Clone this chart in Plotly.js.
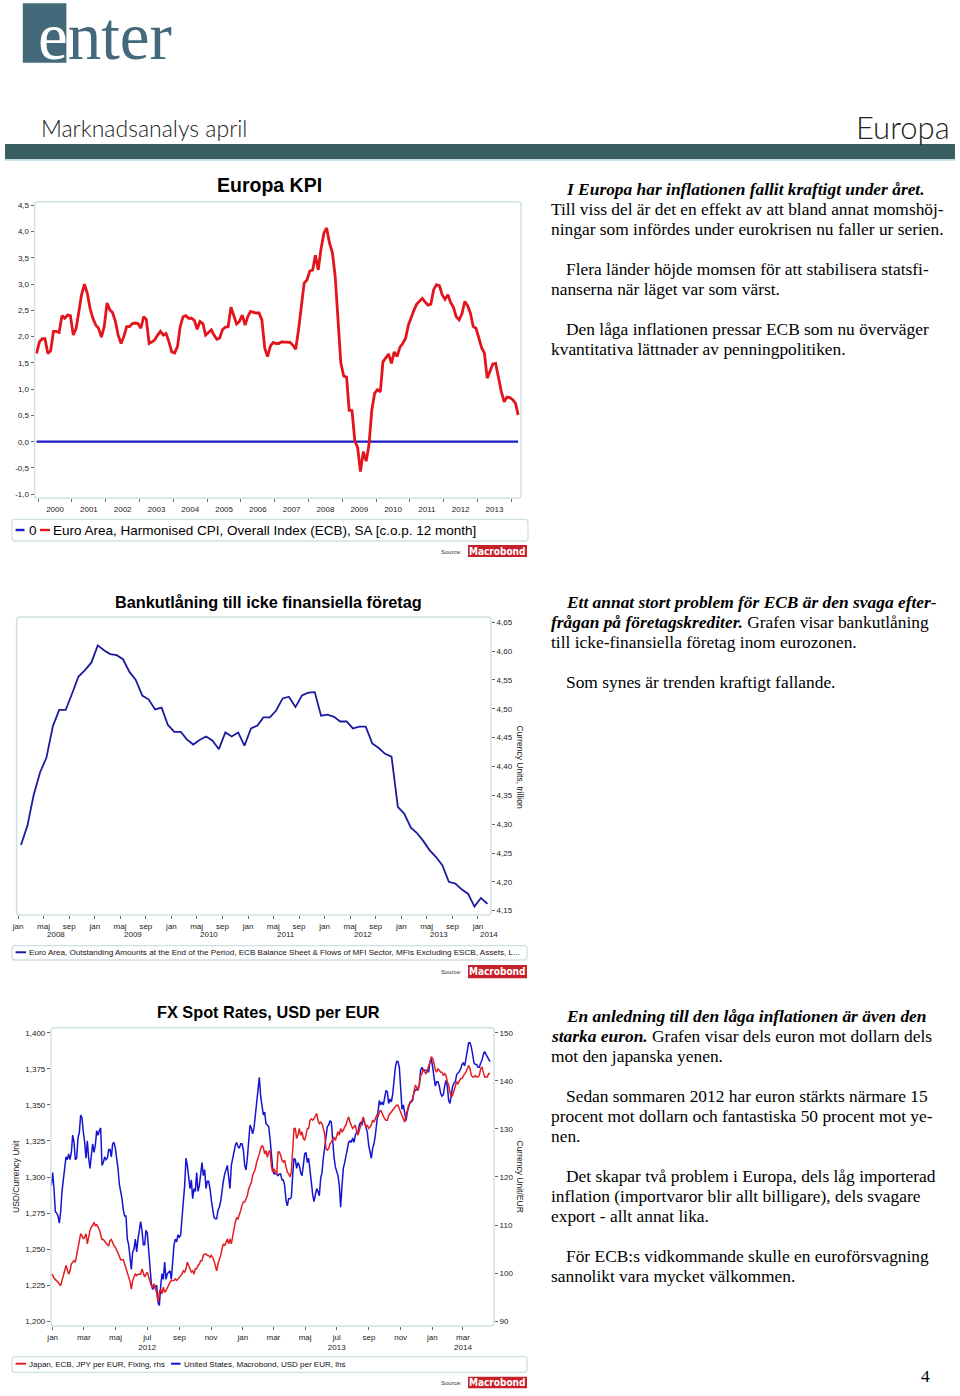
<!DOCTYPE html>
<html><head><meta charset="utf-8">
<script src="https://cdn.plot.ly/plotly-3.0.1.min.js"></script>
<style>html,body{margin:0;padding:0;background:#fff;} #chart{width:960px;height:1396px;}</style>
</head><body><div id="chart"></div>
<script>
// ================= DATA =================
// Chart 1: Euro Area HICP, % y/y, monthly from Dec 1999
const kpiFirstMonth = [1999, 12];
const kpiValues = [
1.68,1.90,1.96,1.96,1.68,1.73,2.10,2.10,2.08,2.40,
2.35,2.41,2.40,2.03,2.16,2.48,2.80,3.00,2.83,2.54,
2.35,2.22,2.16,1.99,2.19,2.64,2.51,2.46,2.29,2.03,
1.87,2.00,2.19,2.19,2.25,2.26,2.25,2.16,2.38,2.33,
1.87,1.90,1.94,2.03,2.10,2.03,2.06,1.90,1.71,1.69,
1.81,2.19,2.38,2.40,2.35,2.35,2.31,2.14,2.29,2.25,
2.03,2.08,2.13,2.03,1.95,1.97,2.13,2.18,2.19,2.56,
2.38,2.24,2.29,2.41,2.22,2.38,2.48,2.46,2.45,2.45,
2.32,1.78,1.62,1.82,1.89,1.87,1.87,1.90,1.90,1.90,
1.89,1.84,1.76,2.13,2.57,3.02,3.08,3.25,3.27,3.55,
3.27,3.67,3.97,4.07,3.78,3.60,3.15,2.20,1.50,1.25,
1.23,0.60,0.59,0.02,-0.11,-0.57,-0.19,-0.37,-0.06,0.60,
0.92,0.99,0.95,1.52,1.59,1.67,1.49,1.71,1.62,1.80,
1.87,1.97,2.22,2.38,2.51,2.62,2.68,2.73,2.66,2.60,
2.62,2.90,2.99,2.97,2.80,2.71,2.80,2.65,2.56,2.38,
2.32,2.43,2.67,2.59,2.45,2.19,2.16,1.95,1.78,1.69,
1.21,1.34,1.48,1.49,1.21,0.95,0.76,0.85,0.84,0.80,
0.73,0.51];
const zeroValues = [0, 0];
const kpiTickVals = [4.5,4,3.5,3,2.5,2,1.5,1,0.5,0,-0.5,-1];
const kpiTickText = ['4,5','4,0','3,5','3,0','2,5','2,0','1,5','1,0','0,5','0,0','-0,5','-1,0'];

// Chart 2: bank lending to non-financial corporations, EUR trillion, monthly from Jan 2008
const loanFirstMonth = [2008, 1];
const loanValues = [
4.264,4.298,4.350,4.390,4.415,4.470,4.498,4.498,4.527,4.556,
4.567,4.580,4.610,4.601,4.595,4.593,4.586,4.564,4.550,4.523,
4.516,4.499,4.502,4.472,4.460,4.460,4.447,4.438,4.446,4.452,
4.445,4.430,4.459,4.452,4.459,4.436,4.466,4.471,4.485,4.485,
4.497,4.518,4.521,4.503,4.523,4.528,4.529,4.488,4.490,4.486,
4.478,4.478,4.466,4.469,4.469,4.440,4.432,4.422,4.417,4.330,
4.318,4.294,4.285,4.271,4.255,4.243,4.229,4.200,4.197,4.187,
4.179,4.157,4.172,4.162];
const loanTickVals = [4.65,4.60,4.55,4.50,4.45,4.40,4.35,4.30,4.25,4.20,4.15];
const loanTickText = ['4,65','4,60','4,55','4,50','4,45','4,40','4,35','4,30','4,25','4,20','4,15'];
const loanMonthLabels = ['jan','maj','sep'];
const loanYears = ['2008','2009','2010','2011','2012','2013','2014'];

// Chart 3: FX spot rates, sampled about every 2.57 days from end Dec 2011
const fxFirstDay = '2011-12-29T09:00:00Z';
const fxStepDays = 2.5675;
const usdValues = [
1.294,1.303,1.292,1.276,1.275,1.273,1.268,1.276,1.290,1.298,
1.306,1.314,1.312,1.316,1.312,1.317,1.329,1.324,1.312,1.313,
1.327,1.331,1.343,1.341,1.331,1.324,1.313,1.325,1.313,1.306,
1.315,1.323,1.317,1.322,1.332,1.329,1.332,1.334,1.308,1.310,
1.314,1.312,1.313,1.319,1.319,1.314,1.323,1.324,1.320,1.314,
1.306,1.295,1.291,1.285,1.277,1.273,1.273,1.257,1.253,1.246,
1.236,1.248,1.250,1.257,1.248,1.257,1.264,1.269,1.263,1.253,
1.253,1.263,1.261,1.248,1.238,1.226,1.222,1.224,1.224,1.225,
1.213,1.211,1.224,1.233,1.229,1.241,1.229,1.233,1.234,1.235,
1.229,1.241,1.253,1.257,1.255,1.260,1.258,1.260,1.269,1.283,
1.294,1.313,1.308,1.299,1.292,1.298,1.285,1.292,1.290,1.303,
1.290,1.294,1.301,1.310,1.301,1.305,1.292,1.297,1.297,1.292,
1.284,1.276,1.272,1.271,1.271,1.277,1.279,1.283,1.291,1.297,
1.302,1.306,1.308,1.300,1.292,1.308,1.313,1.317,1.322,1.324,
1.321,1.320,1.323,1.323,1.319,1.308,1.305,1.313,1.327,1.336,
1.334,1.330,1.334,1.342,1.350,1.359,1.369,1.356,1.348,1.343,
1.345,1.337,1.336,1.335,1.327,1.315,1.306,
1.302,1.303,1.302,1.301,1.302,1.302,1.298,1.298,1.294,1.284,
1.280,1.285,1.285,1.286,1.301,1.313,1.312,1.306,1.310,1.308,
1.303,1.301,1.308,1.316,1.317,1.310,1.313,1.303,1.294,1.288,
1.283,1.287,1.292,1.290,1.287,1.299,1.303,1.313,1.322,1.331,
1.335,1.336,1.339,1.338,1.324,1.314,1.307,1.303,1.301,1.294,
1.279,1.294,1.306,1.310,1.315,1.320,1.324,1.325,1.324,1.327,
1.324,1.329,1.331,1.331,1.336,1.338,1.336,1.341,1.338,1.335,
1.331,1.322,1.317,1.313,1.320,1.323,1.329,1.337,1.343,1.353,
1.350,1.352,1.350,1.356,1.360,1.359,1.351,1.354,1.352,1.357,
1.369,1.376,1.380,1.380,1.376,1.359,1.347,1.350,1.343,1.339,
1.345,1.349,1.352,1.352,1.353,1.359,1.360,1.361,1.360,1.364,
1.374,1.376,1.374,1.374,1.374,1.373,1.373,1.380,1.382,1.376,
1.367,1.363,1.366,1.366,1.363,1.358,1.356,1.357,1.363,1.367,
1.363,1.353,1.351,1.358,1.363,1.365,1.366,1.371,1.372,1.373,
1.375,1.378,1.379,1.377,1.382,1.389,1.393,1.393,1.390,1.385,
1.379,1.378,1.378,1.376,1.376,1.379,1.381,1.385,1.387,1.385,
1.383,1.382,1.380];
const jpyValues = [
99.8,99.6,99.0,98.6,98.4,98.1,97.6,97.4,98.5,99.8,
100.5,101.6,100.5,99.8,100.5,101.9,102.3,102.6,102.3,103.7,
105.4,107.1,108.2,107.8,107.1,107.5,108.2,106.1,107.8,108.9,
109.6,109.9,110.6,109.9,110.1,109.6,109.1,108.0,107.0,107.0,
106.6,106.1,105.9,105.7,106.8,107.0,106.3,105.7,105.4,104.9,
104.2,103.5,102.8,102.8,102.8,101.9,100.9,100.2,99.4,98.3,
96.7,98.5,99.2,99.8,99.5,99.8,99.8,99.8,100.9,100.2,
99.2,99.8,100.2,99.2,98.1,97.4,97.1,97.8,96.7,96.0,
94.0,96.0,96.7,95.7,97.1,96.0,96.4,97.1,97.8,98.1,
98.5,98.5,98.5,98.8,98.5,98.8,99.2,99.5,99.8,100.5,
100.2,100.9,102.3,101.6,100.9,100.2,100.5,99.8,100.9,100.9,
101.6,101.9,102.6,102.6,103.7,104.0,104.0,103.7,103.7,103.3,
103.7,103.3,102.6,101.6,100.5,101.9,102.6,103.7,105.0,106.1,
105.7,106.4,107.1,106.1,107.1,106.1,108.2,109.2,110.6,111.6,
111.3,112.0,113.0,114.1,114.8,114.8,115.5,116.1,117.5,118.2,
118.9,120.3,121.0,121.7,123.1,123.8,124.8,125.9,126.5,126.2,
124.8,125.5,124.1,125.2,125.5,122.4,121.0,
121.7,121.0,120.4,125.2,125.2,124.5,123.5,123.1,123.5,122.1,
121.0,120.7,120.0,121.0,126.6,130.1,130.1,128.0,128.7,130.1,
128.7,129.4,128.0,127.6,128.7,130.1,130.1,131.8,132.1,131.8,
132.1,132.8,133.2,131.8,131.1,131.4,131.1,130.1,129.0,125.9,
125.6,125.9,126.9,127.3,128.0,128.3,127.6,128.7,129.4,128.7,
130.1,129.4,129.7,130.4,130.8,131.8,132.5,131.4,130.8,130.1,
130.4,130.8,129.4,128.7,129.7,130.8,131.8,132.5,131.1,130.4,
130.8,130.1,130.4,130.8,131.8,131.4,132.1,132.8,132.5,133.5,
133.9,133.2,132.5,132.1,131.8,131.8,132.8,133.2,133.5,133.9,
134.2,134.6,134.9,134.9,134.2,133.5,133.2,132.1,131.4,132.8,
134.2,134.9,135.3,135.9,136.3,137.7,139.1,138.7,138.0,139.4,
141.1,141.5,142.5,141.8,141.5,142.2,142.9,143.9,145.0,144.6,
143.6,142.2,141.8,142.5,142.2,141.8,141.8,141.1,141.5,141.1,
139.8,139.1,137.7,136.6,137.0,138.0,139.1,139.8,139.4,140.1,
140.5,140.5,141.1,141.5,141.8,142.5,143.2,142.5,141.1,140.8,
140.8,141.1,140.8,140.8,141.1,142.5,142.9,141.8,140.8,140.8,
140.8,141.5,141.5];
const usdTickVals = [1.4,1.375,1.35,1.325,1.3,1.275,1.25,1.225,1.2];
const usdTickText = ['1,400','1,375','1,350','1,325','1,300','1,275','1,250','1,225','1,200'];
const jpyTickVals = [150,140,130,120,110,100,90];
const fxMonthLabels = ['jan','mar','maj','jul','sep','nov'];

// ================= HELPERS =================
const W = 960, H = 1396;
const X = p => p / W;
const Y = p => 1 - p / H;
function monthDates(first, n) {
  const out = [];
  for (let i = 0; i < n; i++) {
    const d = new Date(Date.UTC(first[0], first[1] - 1 + i, 15));
    out.push(d.toISOString().slice(0, 10));
  }
  return out;
}
function stepDates(first, stepDays, n) {
  const t0 = Date.parse(first), out = [];
  for (let i = 0; i < n; i++) out.push(new Date(t0 + i * stepDays * 864e5).toISOString().slice(0, 19).replace('T', ' '));
  return out;
}
const kpiDates = monthDates(kpiFirstMonth, kpiValues.length);
const loanDates = monthDates(loanFirstMonth, loanValues.length);
const fxDates = stepDates(fxFirstDay, fxStepDays, usdValues.length);

const loanTickDates = [], loanTickLab = [];
for (let y = 2008; y <= 2014; y++) {
  [1, 5, 9].forEach((m, i) => {
    if (y === 2014 && m > 1) return;
    loanTickDates.push(`${y}-${String(m).padStart(2, '0')}-01`);
    loanTickLab.push(loanMonthLabels[i]);
  });
}
const loanYearPos = ['2008-07-01','2009-07-01','2010-07-01','2011-07-01','2012-07-01','2013-07-01','2014-02-24'];

const fxTickDates = [], fxTickLab = [];
for (let y = 2012; y <= 2014; y++) {
  for (let i = 0; i < 6; i++) {
    const m = 1 + 2 * i;
    if (y === 2014 && m > 3) break;
    let lab = fxMonthLabels[i];
    if ((y < 2014 && m === 7) || (y === 2014 && m === 3)) lab += '<br>' + y;
    fxTickDates.push(`${y}-${String(m).padStart(2, '0')}-01`);
    fxTickLab.push(lab);
  }
}

// ================= TRACES =================
const traces = [
  {x: [kpiDates[0], kpiDates[kpiDates.length - 1]], y: zeroValues, xaxis: 'x', yaxis: 'y', mode: 'lines', line: {color: '#1c1cc4', width: 2.2}},
  {x: kpiDates, y: kpiValues, xaxis: 'x', yaxis: 'y', mode: 'lines', line: {color: '#e3141b', width: 2.8}},
  {x: loanDates, y: loanValues, xaxis: 'x2', yaxis: 'y2', mode: 'lines', line: {color: '#1b1b9e', width: 1.8}},
  {x: fxDates, y: jpyValues, xaxis: 'x3', yaxis: 'y4', mode: 'lines', line: {color: '#e31d24', width: 1.5}},
  {x: fxDates, y: usdValues, xaxis: 'x3', yaxis: 'y3', mode: 'lines', line: {color: '#1414d2', width: 1.5}}
];

// ================= LAYOUT =================
const tickFont = {family: 'Liberation Sans, Arial, sans-serif', size: 8, color: '#222'};
const baseAx = {showgrid: false, zeroline: false, showline: false, ticks: 'outside', ticklen: 3, tickwidth: 1, tickcolor: '#666', tickfont: tickFont, fixedrange: true};

const shapes = [];
const ann = [];
const FRAME = '#cfe0e5';
function rrect(x0, y0, x1, y1, r, color, width) {
  const p = `M ${X(x0 + r)},${Y(y0)} L ${X(x1 - r)},${Y(y0)} Q ${X(x1)},${Y(y0)} ${X(x1)},${Y(y0 + r)} ` +
    `L ${X(x1)},${Y(y1 - r)} Q ${X(x1)},${Y(y1)} ${X(x1 - r)},${Y(y1)} L ${X(x0 + r)},${Y(y1)} ` +
    `Q ${X(x0)},${Y(y1)} ${X(x0)},${Y(y1 - r)} L ${X(x0)},${Y(y0 + r)} Q ${X(x0)},${Y(y0)} ${X(x0 + r)},${Y(y0)} Z`;
  shapes.push({type: 'path', xref: 'paper', yref: 'paper', path: p, line: {color: color, width: width}, fillcolor: 'rgba(0,0,0,0)'});
}
function rect(x0, y0, x1, y1, fill) {
  shapes.push({type: 'rect', xref: 'paper', yref: 'paper', x0: X(x0), x1: X(x1), y0: Y(y1), y1: Y(y0), fillcolor: fill, line: {width: 0}});
}
function hline(x0, x1, y, color, width) {
  shapes.push({type: 'line', xref: 'paper', yref: 'paper', x0: X(x0), x1: X(x1), y0: Y(y), y1: Y(y), line: {color: color, width: width}});
}
const SERIF = 17.4;
function txt(x, y, text, opts) {
  ann.push(Object.assign({xref: 'paper', yref: 'paper', x: X(x), y: Y(y), text: text, showarrow: false,
    xanchor: 'left', yanchor: 'middle', borderpad: 0,
    font: {family: 'Liberation Serif, Times New Roman, serif', size: SERIF, color: '#000'}}, opts || {}));
}
function logo(y0, y1) {
  rect(468, y0, 527, y1, '#c6202b');
  txt(497.5, (y0 + y1) / 2, '<b>Macrobond</b>', {xanchor: 'center', font: {family: 'DejaVu Sans Condensed, Liberation Sans Narrow, Liberation Sans', size: 10, color: '#fff'}});
  txt(463, (y0 + y1) / 2 + 0.5, 'Source:', {xanchor: 'right', font: {family: 'Liberation Sans, Arial', size: 6, color: '#333'}});
}
const sansFont = (s, c) => ({family: 'Liberation Sans, Arial, sans-serif', size: s, color: c || '#000'});

// ---- header ----
rect(22.8, 3.3, 66.4, 62.7, '#44697a');
txt(37, 36, "<span style='color:#ffffff'>e</span>nter", {font: {family: 'Liberation Serif, serif', size: 67, color: '#44697a'}});
txt(40, 128, 'Marknadsanalys april', {font: {family: 'Lato, Roboto, sans-serif', size: 23, weight: 300, color: '#222'}});
txt(951, 127, 'Europa', {xanchor: 'right', font: {family: 'Lato, Roboto, sans-serif', size: 31, weight: 300, color: '#222'}});
rect(5, 144, 955, 159.3, '#3a5f63');
hline(5, 955, 160.3, '#c8e4ea', 1.2);

// ---- chart 1 ----
rrect(34.6, 201.7, 521, 498.3, 3, FRAME, 1.5);
txt(269, 185, '<b>Europa KPI</b>', {xanchor: 'center', font: sansFont(19.5)});
rrect(12, 519.3, 528, 541, 3, FRAME, 1.3);
hline(15.6, 24.5, 530, '#1c1cc4', 2.4);
txt(27.5, 530.5, '0', {font: sansFont(13.5)});
hline(40, 50, 530, '#e3141b', 2.4);
txt(52, 530.5, 'Euro Area, Harmonised CPI, Overall Index (ECB), SA [c.o.p. 12 month]', {font: sansFont(13.5)});
logo(545, 557);

// ---- chart 2 ----
rrect(16.6, 617, 491, 915, 3, FRAME, 1.5);
txt(268, 602, '<b>Bankutlåning till icke finansiella företag</b>', {xanchor: 'center', font: sansFont(16.3)});
txt(520, 766.5, 'Currency Units, trillion', {xanchor: 'center', textangle: 90, font: sansFont(8.5, '#222')});
loanYears.forEach((yr, i) => ann.push({xref: 'x2', yref: 'paper', x: loanYearPos[i], y: Y(934.5), text: yr, showarrow: false, xanchor: 'center', yanchor: 'middle', font: tickFont}));
rrect(12, 945.7, 527, 960, 3, FRAME, 1.3);
hline(15.6, 26, 952.3, '#1b1b9e', 2);
txt(28.4, 952.5, 'Euro Area, Outstanding Amounts at the End of the Period, ECB Balance Sheet &amp; Flows of MFI Sector, MFIs Excluding ESCB, Assets, L...', {font: sansFont(8.1, '#111')});
logo(965, 978.3);

// ---- chart 3 ----
rrect(50.9, 1027.7, 494, 1326, 3, FRAME, 1.5);
txt(268.6, 1012, '<b>FX Spot Rates, USD per EUR</b>', {xanchor: 'center', font: sansFont(16.3)});
txt(15.5, 1176.5, 'USD/Currency Unit', {xanchor: 'center', textangle: -90, font: sansFont(8.5, '#222')});
txt(520, 1176.5, 'Currency Unit/EUR', {xanchor: 'center', textangle: 90, font: sansFont(8.5, '#222')});
rrect(12, 1356.7, 527, 1372.3, 3, FRAME, 1.3);
hline(15.6, 26, 1363.7, '#e31d24', 2);
txt(28.4, 1364, 'Japan, ECB, JPY per EUR, Fixing, rhs', {font: sansFont(8, '#111')});
hline(171, 180.5, 1363.7, '#1414d2', 2);
txt(182.7, 1364, 'United States, Macrobond, USD per EUR, lhs', {font: sansFont(8, '#111')});
logo(1376.7, 1388.3);

// ---- text column ----
const L = 550, I = 565;
txt(I, 189, '<b><i>I Europa har inflationen fallit kraftigt under året.</i></b>');
txt(L, 209, 'Till viss del är det en effekt av att bland annat momshöj-');
txt(L, 229, 'ningar som infördes under eurokrisen nu faller ur serien.');
txt(I, 269, 'Flera länder höjde momsen för att stabilisera statsfi-');
txt(L, 289, 'nanserna när läget var som värst.');
txt(I, 329, 'Den låga inflationen pressar ECB som nu överväger');
txt(L, 349, 'kvantitativa lättnader av penningpolitiken.');

txt(I, 602, '<b><i>Ett annat stort problem för ECB är den svaga efter-</i></b>');
txt(L, 622, '<b><i>frågan på företagskrediter.</i></b> Grafen visar bankutlåning');
txt(L, 642, 'till icke-finansiella företag inom eurozonen.');
txt(I, 682, 'Som synes är trenden kraftigt fallande.');

txt(I, 1016, '<b><i>En anledning till den låga inflationen är även den</i></b>');
txt(L, 1036, '<b><i>starka euron.</i></b> Grafen visar dels euron mot dollarn dels');
txt(L, 1056, 'mot den japanska yenen.');
txt(I, 1096, 'Sedan sommaren 2012 har euron stärkts närmare 15');
txt(L, 1116, 'procent mot dollarn och fantastiska 50 procent mot ye-');
txt(L, 1136, 'nen.');
txt(I, 1176, 'Det skapar två problem i Europa, dels låg importerad');
txt(L, 1196, 'inflation (importvaror blir allt billigare), dels svagare');
txt(L, 1216, 'export - allt annat lika.');
txt(I, 1256, 'För ECB:s vidkommande skulle en euroförsvagning');
txt(L, 1276, 'sannolikt vara mycket välkommen.');
txt(925, 1376, '4', {xanchor: 'center'});

const layout = {
  width: W, height: H, margin: {l: 0, r: 0, t: 0, b: 0},
  paper_bgcolor: '#ffffff', plot_bgcolor: 'rgba(0,0,0,0)',
  showlegend: false, hovermode: false, separators: ',.',
  font: {family: 'Liberation Sans, Arial, sans-serif', size: 8, color: '#222'},
  xaxis: Object.assign({}, baseAx, {type: 'date', domain: [X(34.6), X(521)], range: ['1999-11-24', '2014-04-15'], anchor: 'y',
    tick0: '2000-01-01', dtick: 'M12', tickformat: '%Y', ticklabelmode: 'period'}),
  yaxis: Object.assign({}, baseAx, {domain: [Y(498.3), Y(201.7)], range: [-1.077, 4.569], anchor: 'x',
    tickmode: 'array', tickvals: kpiTickVals, ticktext: kpiTickText}),
  xaxis2: Object.assign({}, baseAx, {type: 'date', domain: [X(16.6), X(491)], range: ['2007-12-25', '2014-03-04'], anchor: 'y2',
    tickmode: 'array', tickvals: loanTickDates, ticktext: loanTickLab}),
  yaxis2: Object.assign({}, baseAx, {domain: [Y(915), Y(617)], range: [4.1425, 4.6592], anchor: 'x2', side: 'right',
    tickmode: 'array', tickvals: loanTickVals, ticktext: loanTickText}),
  xaxis3: Object.assign({}, baseAx, {type: 'date', domain: [X(50.9), X(494)], range: ['2011-12-28 13:00', '2014-04-29 19:00'], anchor: 'y3',
    tickmode: 'array', tickvals: fxTickDates, ticktext: fxTickLab}),
  yaxis3: Object.assign({}, baseAx, {domain: [Y(1326), Y(1027.7)], range: [1.19674, 1.40347], anchor: 'x3', side: 'left',
    tickmode: 'array', tickvals: usdTickVals, ticktext: usdTickText}),
  yaxis4: Object.assign({}, baseAx, {range: [89.02, 151.04], anchor: 'x3', overlaying: 'y3', side: 'right',
    tickmode: 'array', tickvals: jpyTickVals}),
  shapes: shapes,
  annotations: ann
};

Plotly.newPlot('chart', traces, layout, {staticPlot: true, displayModeBar: false});
</script>
</body></html>
